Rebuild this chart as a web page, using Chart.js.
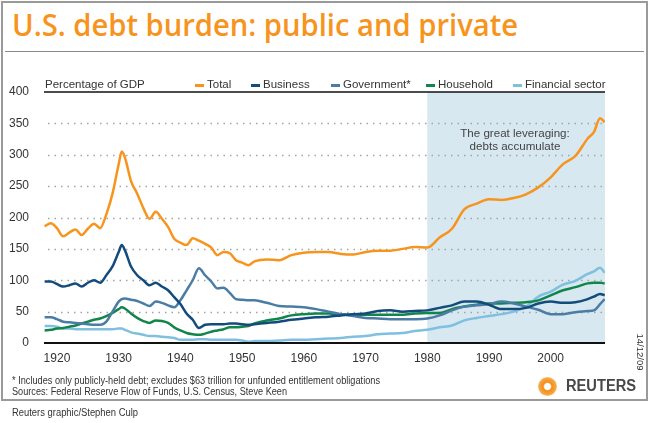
<!DOCTYPE html>
<html>
<head>
<meta charset="utf-8">
<script src="https://cdn.jsdelivr.net/npm/chart.js@4.4.1/dist/chart.umd.min.js"></script>
<style>
  body { margin: 0; width: 650px; height: 423px; position: relative; background: #fff; overflow: hidden;
         font-family: "Liberation Sans", Arial, sans-serif; color: #333; }
  .abs { position: absolute; white-space: nowrap; }
  #frame { left: 1px; top: 1px; width: 643px; height: 396px; border: 2px solid #9a9a9a; }
  #rule { left: 5px; top: 51px; width: 639px; height: 1px; background: #8a8a8a; }
  #title { left: 12px; top: 10px; font-family: "Open Sans", sans-serif; font-weight: 600; font-size: 30px;
           line-height: 30px; color: #f7941d; transform-origin: 0 0; }
  #chart { left: 0; top: 0; }
  .leg { font-size: 11.5px; line-height: 11.5px; top: 79px; color: #333; }
  .dash { top: 84px; width: 9px; height: 3px; }
  .note { left: 12px; font-size: 10px; line-height: 10px; color: #333; transform-origin: 0 0; }
  #annot { left: 440px; top: 126px; width: 150px; text-align: center; font-size: 11.6px; line-height: 13px; color: #444; }
</style>
</head>
<body>
<div id="frame" class="abs"></div>
<div id="rule" class="abs"></div>
<div id="title" class="abs">U.S. debt burden: public and private</div>
<canvas id="chart" class="abs" width="650" height="423"></canvas>

<div class="abs leg" style="left:45px">Percentage of GDP</div>
<div class="abs dash" style="left:195px;background:#f7941d"></div><div class="abs leg" style="left:207px">Total</div>
<div class="abs dash" style="left:251px;background:#134c7c"></div><div class="abs leg" style="left:263px">Business</div>
<div class="abs dash" style="left:331px;background:#4b7ca5"></div><div class="abs leg" style="left:343px">Government*</div>
<div class="abs dash" style="left:426px;background:#12854a"></div><div class="abs leg" style="left:438px">Household</div>
<div class="abs dash" style="left:513px;background:#7fbfdf"></div><div class="abs leg" style="left:525px">Financial sector</div>

<div id="annot" class="abs">The great leveraging:<br>debts accumulate</div>

<div id="fn1" class="abs note" style="top:376px">* Includes only publicly-held debt; excludes $63 trillion for unfunded entitlement obligations</div>
<div id="fn2" class="abs note" style="top:387px">Sources: Federal Reserve Flow of Funds, U.S. Census, Steve Keen</div>
<div id="credit" class="abs note" style="top:408px">Reuters graphic/Stephen Culp</div>
<div class="abs" style="left:622px;top:347px;font-size:9.5px;line-height:10px;transform:rotate(90deg);transform-origin:center">14/12/09</div>
<div class="abs" style="left:538px;top:377px;width:19px;height:19px;border-radius:50%;
     background:radial-gradient(circle, #fff 0, #fff 22%, #f28c1c 32%, #f7a540 60%, #fbc57a 72%, rgba(255,255,255,0) 74%)"></div>
<div id="reuters" class="abs" style="left:566px;top:378px;font-size:16px;line-height:16px;font-weight:bold;color:#474747;transform-origin:0 0">REUTERS</div>

<script>
// years on a linear axis (half year added at the 1930 peak)
const years = [1918, 1919, 1920, 1921, 1922, 1923, 1924, 1925, 1926, 1927, 1928, 1929, 1930, 1930.5, 1931,
  1932, 1933, 1934, 1935, 1936, 1937, 1938, 1939, 1940, 1941, 1942, 1943, 1944, 1945, 1946, 1947, 1948,
  1949, 1950, 1951, 1952, 1954, 1956, 1958, 1960, 1962, 1964, 1966, 1968, 1970, 1972, 1974, 1976, 1978,
  1980, 1982, 1984, 1986, 1988, 1990, 1992, 1994, 1996, 1998, 2000, 2002, 2004, 2006, 2007, 2008, 2008.75];

const total = [186, 191, 183, 170, 176, 181, 172, 182, 190, 183, 205, 238, 285, 305, 296,
  258, 238, 215, 198, 209, 198, 185, 166, 160, 156, 167, 163, 158, 152, 140, 145, 143,
  132, 128, 124, 130, 133, 132, 140, 144, 145, 145, 142, 141, 145, 147, 147, 150, 153,
  152, 168, 182, 213, 222, 229, 228, 231, 237, 248, 264, 285, 298, 326, 336, 358, 352];

const business = [98, 98, 94, 90, 92, 95, 90, 96, 100, 96, 108, 122, 145, 156, 148,
  122, 108, 100, 92, 96, 90, 84, 73, 62, 47, 37, 24, 29, 30, 30, 30, 31,
  31, 30, 29, 30, 32, 34, 37, 39, 41, 42, 44, 46, 47, 51, 52, 50, 51,
  52, 56, 60, 66, 66, 61, 54, 54, 56, 63, 66, 64, 65, 70, 74, 78, 76];

const government = [41, 41, 38, 34, 33, 32, 31, 30, 29, 29, 34, 50, 66, 70, 71,
  69, 67, 63, 59, 66, 64, 60, 57, 68, 84, 100, 119, 108, 98, 87, 88, 80,
  70, 69, 68, 68, 64, 59, 58, 57, 54, 50, 46, 43, 40, 39, 38, 38, 38,
  39, 44, 52, 58, 60, 62, 66, 63, 58, 53, 46, 46, 49, 51, 52, 62, 70];

const household = [20, 21, 23, 24, 26, 28, 31, 34, 37, 39, 43, 48, 54, 57, 55,
  47, 40, 35, 32, 36, 35, 32, 25, 20, 16, 14, 13, 15, 18, 20, 22, 25,
  25, 26, 27, 31, 36, 39, 44, 46, 47, 47, 46, 45, 45, 45, 45, 45, 47,
  48, 48, 54, 58, 61, 63, 63, 64, 65, 68, 76, 84, 89, 95, 96, 96, 95];

const financial = [27, 27, 26, 23, 23, 22, 22, 22, 22, 22, 22, 22, 23, 23, 21,
  17, 15, 13, 11, 11, 10, 9, 8, 5, 5, 5, 6, 6, 5, 5, 5, 5,
  5, 4, 2, 3, 3, 4, 5, 5, 6, 7, 8, 10, 11, 14, 15, 16, 19,
  21, 25, 28, 36, 40, 43, 46, 50, 58, 74, 82, 93, 99, 110, 114, 120, 112];

const xTicks = [1920, 1930, 1940, 1950, 1960, 1970, 1980, 1990, 2000];
const yTicks = [0, 50, 100, 150, 200, 250, 300, 350, 400];
const shadeFrom = 1980;

function series(values) {
    return years.map((yr, i) => ({ x: yr, y: values[i] }));
}

// squeeze condensed texts to the reference widths
function fitWidth(id, target) {
    const el = document.getElementById(id);
    const w = el.getBoundingClientRect().width;
    el.style.transform = 'scaleX(' + (target / w) + ')';
}
fitWidth('title', 506);
fitWidth('fn1', 368);
fitWidth('fn2', 275);
fitWidth('credit', 126);
fitWidth('reuters', 70);

// shaded band, dotted grid, top rule and base axis
const backdrop = {
    id: 'backdrop',
    beforeDatasetsDraw(chart) {
        const { ctx, chartArea: a, scales: { x, y } } = chart;
        ctx.save();
        const sx = x.getPixelForValue(shadeFrom);
        ctx.fillStyle = '#d7e8f1';
        ctx.fillRect(sx, a.top, a.right - sx, a.bottom - a.top);

        ctx.strokeStyle = '#a3a3a3';
        ctx.lineWidth = 1.5;
        ctx.setLineDash([1.5, 5]);
        yTicks.slice(1, -1).forEach(v => {
            const py = Math.round(y.getPixelForValue(v)) + 0.5;
            ctx.beginPath();
            ctx.moveTo(a.left + 4, py);
            ctx.lineTo(a.right, py);
            ctx.stroke();
        });
        ctx.setLineDash([]);
        ctx.strokeStyle = '#111';
        ctx.lineWidth = 1.5;
        const top = y.getPixelForValue(400);
        ctx.beginPath();
        ctx.moveTo(a.left, top);
        ctx.lineTo(a.right, top);
        ctx.stroke();
        ctx.restore();
    },
    afterDatasetsDraw(chart) {
        const { ctx, chartArea: a, scales: { y } } = chart;
        ctx.save();
        ctx.strokeStyle = '#111';
        ctx.lineWidth = 2;
        const base = y.getPixelForValue(0);
        ctx.beginPath();
        ctx.moveTo(a.left, base);
        ctx.lineTo(a.right, base);
        ctx.stroke();
        ctx.restore();
    }
};

function line(label, values, color) {
    return {
        label: label,
        data: series(values),
        borderColor: color,
        borderWidth: 2.5,
        pointRadius: 0,
        fill: false,
        cubicInterpolationMode: 'monotone'
    };
}

new Chart(document.getElementById('chart').getContext('2d'), {
    type: 'line',
    data: {
        datasets: [
            line('Total', total, '#f7941d'),
            line('Business', business, '#134c7c'),
            line('Government*', government, '#4b7ca5'),
            line('Household', household, '#12854a'),
            line('Financial sector', financial, '#7fbfdf')
        ]
    },
    options: {
        responsive: false,
        animation: false,
        layout: { padding: { left: 0, top: 92, right: 45, bottom: 60 } },
        plugins: { legend: { display: false }, tooltip: { enabled: false } },
        scales: {
            x: {
                type: 'linear',
                min: 1917.9,
                max: 2008.8,
                grid: { display: false },
                border: { display: false },
                afterBuildTicks: s => { s.ticks = xTicks.map(v => ({ value: v })); },
                afterFit: s => { s.height = 20; },
                ticks: {
                    padding: 0,
                    color: '#333',
                    font: { family: 'Liberation Sans', size: 12 },
                    maxRotation: 0,
                    callback: v => String(v)
                }
            },
            y: {
                min: 0,
                max: 400,
                grid: { display: false },
                border: { display: false },
                afterBuildTicks: s => { s.ticks = yTicks.map(v => ({ value: v })); },
                afterFit: s => { s.width = 44; },
                ticks: {
                    padding: 7,
                    color: '#333',
                    font: { family: 'Liberation Sans', size: 12 }
                }
            }
        }
    },
    plugins: [backdrop]
});
</script>
</body>
</html>
